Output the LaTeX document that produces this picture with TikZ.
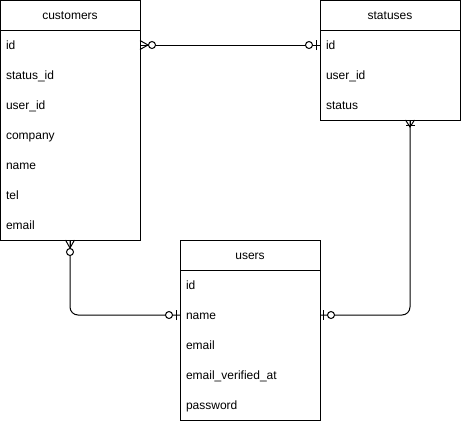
\documentclass[tikz,border=0pt]{standalone}
\usepackage{fontspec}
\setmainfont{Liberation Sans}
\usetikzlibrary{positioning}
\tikzset{
  tabhead/.style={draw, minimum width=140pt, minimum height=30pt, inner sep=0pt, outer sep=0pt, anchor=north west, text height=8.6pt, text depth=0pt},
  tabbody/.style={draw, minimum width=140pt, inner sep=0pt, outer sep=0pt, anchor=north west},
  tabrow/.style={minimum height=30pt, text width=128pt, inner xsep=6pt, inner ysep=0pt, outer sep=0pt, align=left, text height=8.6pt, text depth=0pt},
  zeromany/.pic={
    \draw (0pt,4.5pt) -- (8pt,0pt) -- (0pt,-4.5pt);
    \draw (0pt,0pt) -- (8pt,0pt);
    \draw[fill=white] (12pt,0pt) circle[radius=3.5pt];
  },
  zeroone/.pic={
    \draw (3.5pt,5pt) -- (3.5pt,-5pt);
    \draw[fill=white] (11pt,0pt) circle[radius=3.5pt];
  },
  onemany/.pic={
    \draw (0pt,4.5pt) -- (7pt,0pt) -- (0pt,-4.5pt);
    \draw (0pt,0pt) -- (7pt,0pt);
    \draw (5.5pt,4.5pt) -- (5.5pt,-4.5pt);
  }
}
\begin{document}
\begin{tikzpicture}[x=1pt,y=-1pt,line width=1pt,font=\fontsize{12}{14}\selectfont]
\useasboundingbox (0,0) rectangle (461,421);
\node[tabhead] (cust) at (0,0) {customers};
\node[tabbody, minimum height=210pt] (cust-body) at (0,30) {};
\foreach \key/\txt [count=\i] in {id/id,status/status\_id,user/user\_id,company/company,name/name,tel/tel,email/email}
  \node[tabrow] (cust-\key) at (70,15+30*\i) {\txt};
\node[tabhead] (stat) at (320,0) {statuses};
\node[tabbody, minimum height=90pt] (stat-body) at (320,30) {};
\foreach \key/\txt [count=\i] in {id/id,user/user\_id,status/status}
  \node[tabrow] (stat-\key) at (390,15+30*\i) {\txt};
\node[tabhead] (users) at (180,240) {users};
\node[tabbody, minimum height=150pt] (users-body) at (180,270) {};
\foreach \key/\txt [count=\i] in {id/id,name/name,email/email,verified/email\_verified\_at,password/password}
  \node[tabrow] (users-\key) at (250,255+30*\i) {\txt};
\draw (cust-id.east) -- (stat-id.west);
\draw[rounded corners=8pt] (cust-body.south) |- (users-name.west);
\draw[rounded corners=8pt] (users-name.east) -| ([xshift=20pt]stat-body.south);
\pic at (cust-id.east) {zeromany};
\pic[rotate=180] at (stat-id.west) {zeroone};
\pic[rotate=-90] at (cust-body.south) {zeromany};
\pic[rotate=180] at (users-name.west) {zeroone};
\pic at (users-name.east) {zeroone};
\pic[rotate=-90] at ([xshift=20pt]stat-body.south) {onemany};
\end{tikzpicture}
\end{document}
